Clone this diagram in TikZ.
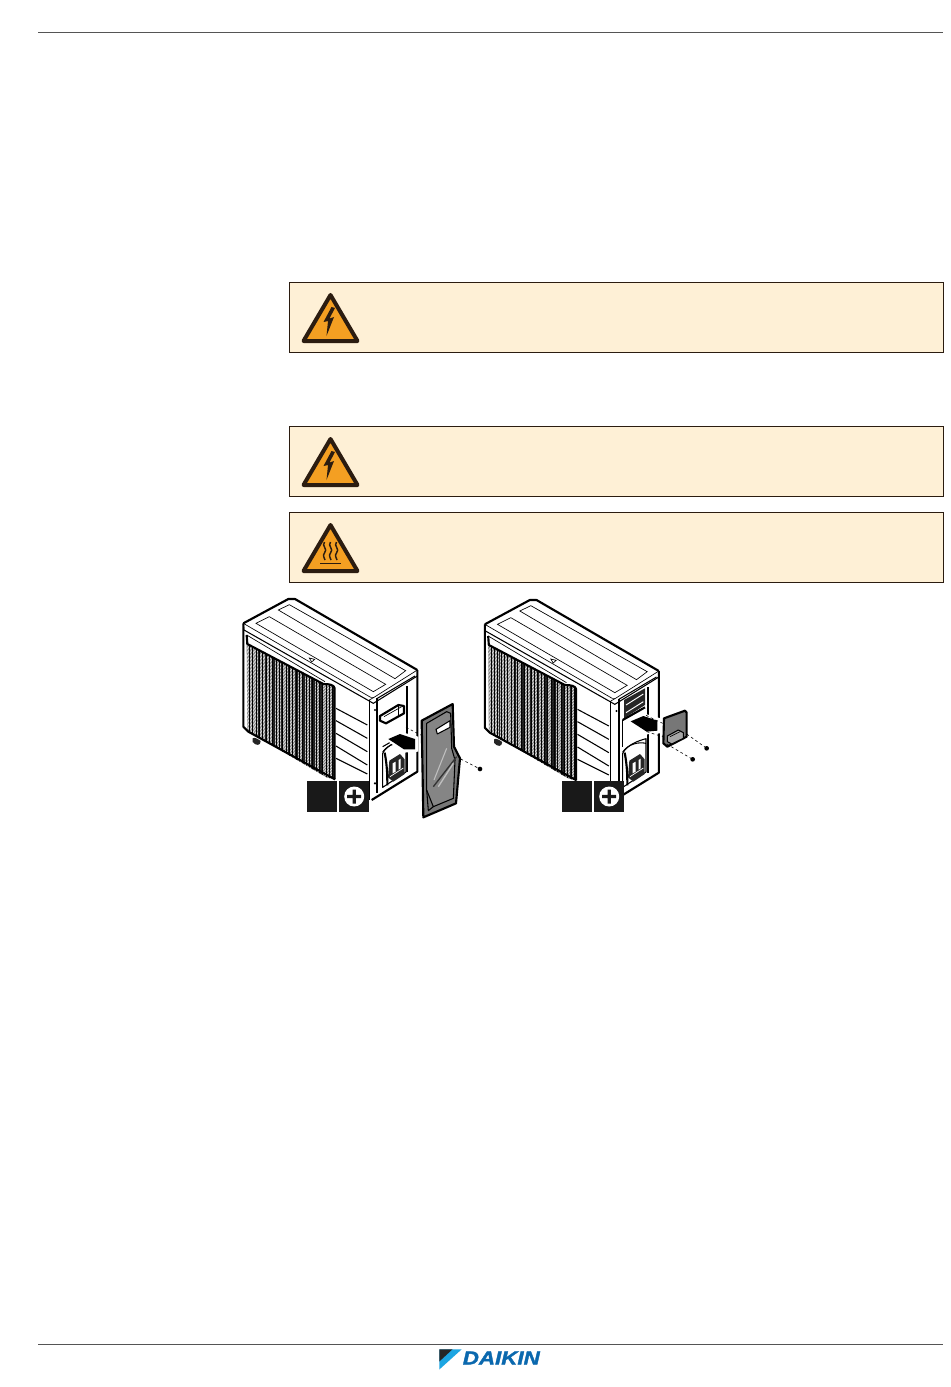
\documentclass[tikz,border=0pt]{standalone}
\usepackage{fontspec}
\setmainfont{Liberation Sans}
\newfontfamily\dkfont[BoldItalicFeatures={FakeBold=1.6}]{Liberation Sans}
\usetikzlibrary{arrows.meta,shapes.geometric}
\definecolor{boxfill}{HTML}{FEF0D6}
\definecolor{warnorange}{HTML}{F49F22}
\definecolor{warnedge}{HTML}{2B1C10}
\definecolor{rulegrey}{HTML}{555555}
\definecolor{dkblue}{HTML}{0A68AE}
\definecolor{dkcyan}{HTML}{1CA5E2}
\definecolor{panelgrey}{HTML}{777777}
\tikzset{
  warnbox/.style={draw=warnedge,fill=boxfill,line width=.6pt},
  warntri/.style={draw=warnedge,fill=warnorange,line width=3pt,line join=round},
  rulerline/.style={draw=rulegrey,line width=.7pt},
  heavy/.style={draw=black,line width=1.6pt,line join=round},
  mid/.style={draw=black,line width=.8pt,line join=round},
  thin/.style={draw=black,line width=.5pt},
  screwline/.style={draw=black,line width=.45pt,dash pattern=on 2pt off 2pt},
  toolbox/.style={fill=black!90!white,draw=none},
}
\newcommand{\warnsign}[1]{%
  \begin{scope}[shift={(0,#1)}]
    \path[warntri] (330.5,295) -- (303.5,341) -- (357.5,341) -- cycle;
  \end{scope}}
\newcommand{\fanbay}{%
  \path[mid,fill=white] (458,490) .. controls (470,465) and (505,452) .. (528,446) -- (528,546) -- (458,592) -- cycle;
  \fill[black!85] (478,512) -- (510,492) -- (524,508) -- (524,552) -- (490,575) -- (474,562) -- cycle;
  \fill[white] (488,520) -- (497,515) -- (497,545) -- (488,550) -- cycle;
  \fill[white] (506,510) -- (512,506) -- (512,535) -- (506,539) -- cycle;
  \draw[white,line width=.5pt] (480,560) -- (520,534);
  \path[heavy] (464,488) .. controls (472,530) and (472,560) .. (472,586);
  \path[mid] (458,486) .. controls (475,462) and (505,455) .. (528,460);
}
\newcommand{\acbody}{%
  % outer silhouette
  \path[fill=white] (40,100) -- (175,27) -- (195,27) -- (562,240) -- (562,545) -- (425,630) -- (418,630) -- (315,568) -- (40,410) -- cycle;
  % grille
  \begin{scope}
    \clip (50,160) -- (280,282) .. controls (300,282) and (312,285) .. (314,295) -- (314,568) -- (290,562) -- (52,422) -- cycle;
    \fill[black!62] (45,150) rectangle (320,575);
    \foreach \i in {0,...,64}{
      \pgfmathsetmacro{\ya}{160+4.1*\i}
      \pgfmathsetmacro{\yb}{280+4.6*\i}
      \draw[white,line width=.34pt] (45,\ya) -- (320,\yb);
    }
    \foreach \xx in {58,68,...,320}{
      \draw[black,line width=.3pt] (\xx,150) -- (\xx,580);
    }
    \foreach \xx/\ww in {85/.8,108/.9,132/1.1,155/1.4,178/1.6,200/1.9,222/2.2,248/2.8,272/2.2,298/1.2,310/2}{
      \draw[black,line width=\ww pt,opacity=.8] (\xx,150) -- (\xx,580);
    }
  \end{scope}
  % top and corner lines
  \path[heavy] (40,100) -- (175,27) -- (195,27) -- (562,240);
  \path[heavy] (40,100) -- (40,410) -- (55,425) -- (315,568);
  \path[mid] (40,100) -- (42,120) -- (430,340) -- (562,258);
  \path[thin] (40,100) -- (422,322) -- (432,322) -- (562,240);
  \path[heavy] (50,135) -- (52,162) -- (280,282) .. controls (300,282) and (312,285) .. (314,295) -- (314,568);
  \path[thin] (50,135) -- (285,275);
  % lid panels
  \path[thin] (78,100) -- (118,80) -- (467,283) -- (430,305) -- cycle;
  \path[thin] (145,60) -- (178,44) -- (527,242) -- (495,266) -- cycle;
  \path[thin] (238,204) -- (254,208) -- (245,216) -- cycle;
  % foot
  \fill[black!85] (68,445) .. controls (72,440) and (86,448) .. (92,453) .. controls (92,468) and (78,468) .. (68,456) -- cycle;
  % side slats
  \foreach \ya/\yb in {355/405,392/445,430/485,468/525,505/552}{
    \draw[mid] (318,\ya) -- (412,\yb);
  }
  % corner post and right side
  \path[mid] (418,330) -- (418,630);
  \path[heavy] (442,325) -- (442,610);
  \path[heavy] (530,288) -- (530,545);
  \path[heavy] (562,240) -- (562,545) -- (425,630);
  \path[mid] (442,325) -- (555,258);
  \path[thin] (418,330) -- (432,322);
  \fill (435,360) circle (3.5); \fill (435,580) circle (3.5);
}
\newcommand{\phillips}[2]{%
  \fill[white] (#1,#2) circle (10);
  \fill[black!90!white] (#1-7,#2-1.6) -- (#1-1.6,#2-1.6) -- (#1-1.6,#2-7) -- (#1+1.6,#2-7) -- (#1+1.6,#2-1.6) -- (#1+7,#2-1.6) -- (#1+7,#2+1.6) -- (#1+1.6,#2+1.6) -- (#1+1.6,#2+7) -- (#1-1.6,#2+7) -- (#1-1.6,#2+1.6) -- (#1-7,#2+1.6) -- cycle;
}
\begin{document}
\begin{tikzpicture}[x=.75pt,y=-.75pt]
\useasboundingbox (0,0) rectangle (950,1387);
\fill[white] (0,0) rectangle (950,1387);
% header / footer rules
\coordinate (hl) at (38,32.5); \coordinate (hr) at (943,32.5);
\coordinate (fl) at (38,1344.5); \coordinate (fr) at (943,1344.5);
\path[rulerline] (hl) -- (hr);
\path[rulerline] (fl) -- (fr);
% warning boxes
\path[warnbox] (289.5,282) rectangle (943,352.5);
\path[warnbox] (289.5,426) rectangle (943,496.5);
\path[warnbox] (289.5,512) rectangle (943,582.5);
% electric sign, box 1
\warnsign{0}
\fill[warnedge] (331.5,307) -- (323.5,322) -- (328,321) -- (326.5,336) -- (334,317) -- (329.5,318.5) -- (335,308) -- cycle;
% electric sign, box 2
\warnsign{144}
\fill[warnedge] (331.5,451) -- (323.5,466) -- (328,465) -- (326.5,480) -- (334,461) -- (329.5,462.5) -- (335,452) -- cycle;
% hot sign, box 3
\warnsign{230}
\foreach \dx in {-6,0,6}{
  \draw[warnedge,line width=1.1pt] (330.5+\dx,542) .. controls (327+\dx,546) and (334.5+\dx,549) .. (330.5+\dx,553) .. controls (328+\dx,556) and (331+\dx,558) .. (331+\dx,560);
}
\draw[warnedge,line width=1.1pt] (320,563.5) -- (341,563.5);

% unit 1
\begin{scope}[shift={(230,590)},x=.25pt,y=-.25pt]
  \acbody
  % handle
  \path[heavy,fill=white] (450,378) -- (505,345) -- (522,348) -- (522,370) -- (468,400) -- (450,392) -- cycle;
  \path[thin] (462,380) -- (515,350);
  \path[mid] (505,345) -- (505,380);
  \path[mid] (458,470) -- (528,430);
  \fanbay
  % arrow
  \fill[white] (465,447) -- (510,425) -- (565,440) -- (565,485) -- (520,488) -- cycle;
  \fill[black] (475,447) -- (510,432) -- (555,447) -- (555,478) -- (522,478) -- cycle;
  \path[screwline] (528,412) -- (572,435);
  % panel
  \path[heavy,fill=panelgrey] (575,392) -- (668,342) -- (672,470) -- (690,505) -- (678,640) -- (580,682) -- cycle;
  \path[mid,fill=black!48] (590,400) -- (650,365) -- (662,370) -- (665,475) -- (675,510) -- (670,625) -- (610,650) -- (590,600) -- cycle;
  \path[mid,fill=white] (618,418) -- (660,392) -- (660,412) -- (622,432) -- cycle;
  \path[draw=black!80,line width=1pt] (610,590) -- (680,500);
  \path[draw=black!25,line width=1pt] (625,590) -- (670,520);
  \path[draw=black!25,line width=.8pt] (612,570) -- (650,475);
  \path[mid] (610,650) -- (595,662) -- (590,600);
  % screw
  \coordinate (s1a) at (692,507);
  \coordinate (s1b) at (750,537);
  \path[screwline] (s1a) -- (s1b);
  \fill[black] (s1b) circle (7);
\end{scope}

% unit 2
\begin{scope}[shift={(471.5,591)},x=.25pt,y=-.25pt]
  \acbody
\end{scope}
\begin{scope}[shift={(470,590)},x=.25pt,y=-.25pt]
  % top opening
  \fill[black!85] (462,330) -- (525,295) -- (525,345) -- (462,385) -- cycle;
  \path[draw=white,line width=.7pt] (468,345) -- (520,312);
  \path[draw=white,line width=.7pt] (468,368) -- (520,335);
  % lower lines
  \path[heavy] (458,390) -- (525,352);
  \path[mid] (458,390) -- (458,470);
  \fanbay
  % arrow
  \fill[white] (472,394) -- (520,370) -- (572,385) -- (572,430) -- (530,433) -- cycle;
  \fill[black] (482,394) -- (520,378) -- (562,392) -- (562,422) -- (530,425) -- cycle;
  % panel
  \path[heavy,fill=panelgrey] (582,385) -- (645,362) -- (650,368) -- (650,440) -- (592,470) -- (580,460) -- cycle;
  \path[mid,fill=black!35] (592,438) -- (625,420) -- (640,428) -- (640,445) -- (605,462) -- (592,455) -- cycle;
  \path[thin] (600,440) -- (630,425);
  % screws
  \coordinate (s2a) at (650,432);
  \coordinate (s2b) at (710,475);
  \coordinate (s3a) at (590,462);
  \coordinate (s3b) at (668,508);
  \path[screwline] (s2a) -- (s2b);
  \path[screwline] (s3a) -- (s3b);
  \fill[black] (s2b) circle (7);
  \fill[black] (s3b) circle (7);
  \path[screwline] (528,376) -- (578,400);
  \path[screwline] (530,425) -- (578,440);
\end{scope}

% tool boxes
\fill[toolbox] (307.3,781) rectangle (337.3,811.7);
\fill[toolbox] (339,781) rectangle (369.3,811.7);
\phillips{354.2}{796.5}
\fill[toolbox] (561.7,781) rectangle (592.3,811.7);
\fill[toolbox] (594,781) rectangle (624.3,811.7);
\phillips{609.2}{796.5}

% logo
\fill[dkcyan] (439.3,1349.3) -- (461.7,1349.3) -- (439.3,1369.5) -- cycle;
\fill[black!85] (439.3,1349.3) -- (452.5,1349.3) -- (439.3,1361.5) -- cycle;
\node[anchor=west,inner sep=0pt,text=dkblue,xscale=1.18,font=\dkfont\fontsize{14.2}{14.2}\selectfont\bfseries\itshape] (logo) at (462.5,1358) {DAIKIN};
\end{tikzpicture}
\end{document}
